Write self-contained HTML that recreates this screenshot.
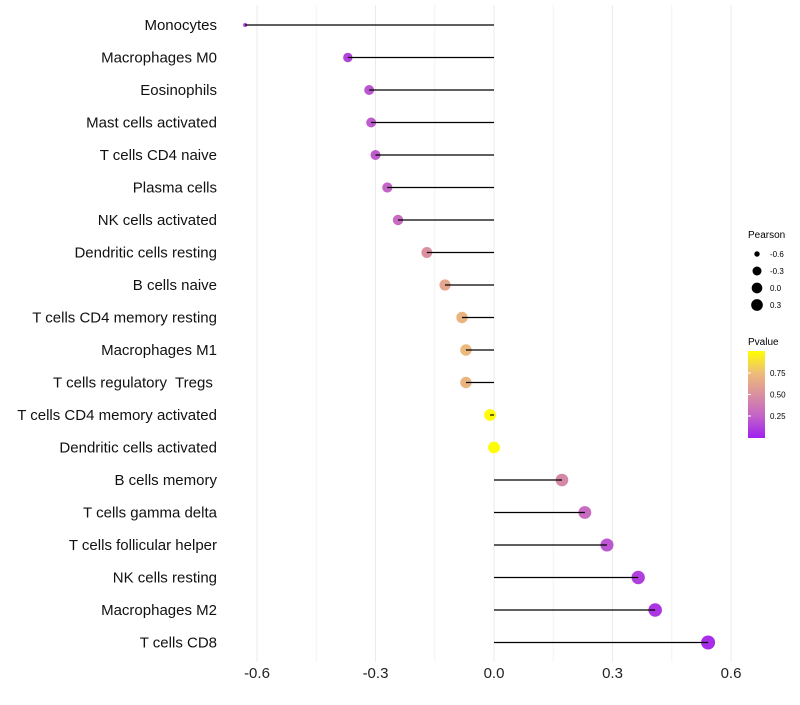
<!DOCTYPE html>
<html><head><meta charset="utf-8"><style>
body{margin:0;background:#fff;font-family:"Liberation Sans",sans-serif}
text{white-space:pre}
</style></head><body>
<svg id="c" width="800" height="700" xmlns="http://www.w3.org/2000/svg">
<defs><linearGradient id="pg" x1="0" y1="1" x2="0" y2="0">
<stop offset="0" stop-color="#A020F0"/><stop offset="0.25" stop-color="#C263C8"/><stop offset="0.5" stop-color="#DA909F"/><stop offset="0.75" stop-color="#EEBD78"/><stop offset="1" stop-color="#FFFF00"/></linearGradient></defs>
<g id="grid"></g><g id="pts"></g><g id="marks"></g><g id="labels"></g>
<g font-size="8" fill="#000">
<text x="748" y="238" font-size="10">Pearson</text>
<g id="sizeleg"></g>
<text x="748" y="345" font-size="10">Pvalue</text>
<rect x="748" y="351" width="17" height="87" fill="url(#pg)"/>
<g id="colleg"></g>
</g>
</svg>
<script>
const categories=["Monocytes","Macrophages M0","Eosinophils","Mast cells activated","T cells CD4 naive","Plasma cells","NK cells activated","Dendritic cells resting","B cells naive","T cells CD4 memory resting","Macrophages M1","T cells regulatory  Tregs ","T cells CD4 memory activated","Dendritic cells activated","B cells memory","T cells gamma delta","T cells follicular helper","NK cells resting","Macrophages M2","T cells CD8"];
const pearson=[-0.63,-0.37,-0.316,-0.311,-0.30,-0.27,-0.243,-0.17,-0.124,-0.081,-0.071,-0.071,-0.01,0.0,0.172,0.23,0.286,0.365,0.408,0.542];
const pvalue=[0.1,0.13,0.2,0.22,0.22,0.26,0.3,0.5,0.62,0.7,0.72,0.7,0.98,0.99,0.45,0.3,0.2,0.12,0.08,0.05];
const xTicks=[-0.6,-0.3,0.0,0.3,0.6];
const xTickLabels=["-0.6","-0.3","0.0","0.3","0.6"];
const sizeLegVals=[-0.6,-0.3,0.0,0.3];
const colLegVals=[0.25,0.5,0.75];
const NS="http://www.w3.org/2000/svg";
const x=v=>494+v*395;
const y=i=>25+i*32.5;
const pmin=Math.min(...pearson),pmax=Math.max(...pearson);
const r=v=>{const f=Math.max(0,(v-pmin)/(pmax-pmin));return Math.sqrt(4+45*Math.pow(f,0.6));};
const stops=[[0,[160,32,240]],[0.25,[194,99,200]],[0.5,[218,144,159]],[0.75,[238,189,120]],[1,[255,255,0]]];
function col(p){for(let k=0;k<stops.length-1;k++){const[a,ca]=stops[k],[b,cb]=stops[k+1];if(p<=b){const t=(p-a)/(b-a);return`rgb(${ca.map((c,j)=>Math.round(c+(cb[j]-c)*t)).join(',')})`;}}return'rgb(255,255,0)';}
function mk(t,a,p){const e=document.createElementNS(NS,t);for(const k in a)e.setAttribute(k,a[k]);p.appendChild(e);return e;}
const G=document.getElementById('grid'),P=document.getElementById('pts'),M=document.getElementById('marks'),L=document.getElementById('labels');
[-0.45,-0.15,0.15,0.45].forEach(v=>{const e=mk('line',{x1:x(v),x2:x(v),y1:5,y2:662,stroke:'#f4f4f4','stroke-width':1},G);

});
xTicks.forEach((v,i)=>{const e=mk('line',{x1:x(v),x2:x(v),y1:5,y2:662,stroke:'#ebebeb','stroke-width':1},G);


const t=mk('text',{x:x(v),y:678,'text-anchor':'middle','font-size':15,fill:'#222'},L);t.textContent=xTickLabels[i];

});
categories.forEach((c,i)=>{
const t=mk('text',{x:217,y:y(i)+5,'text-anchor':'end','font-size':15,fill:'#111'},L);t.textContent=c;


const d=mk('circle',{cx:x(pearson[i]),cy:y(i),r:r(pearson[i]),fill:col(pvalue[i])},P);


const ln=mk('line',{x1:x(0),x2:x(pearson[i]),y1:y(i),y2:y(i),stroke:'#000','stroke-width':1.2},M);

});
const S=document.getElementById('sizeleg');
sizeLegVals.forEach((v,i)=>{const cy=254+i*17;
const d=mk('circle',{cx:757,cy:cy,r:Math.min(r(v),6.5)*0.9,fill:'#000'},S);


const t=mk('text',{x:770,y:cy+3},S);t.textContent=v.toFixed(1);

});
const C=document.getElementById('colleg');
colLegVals.forEach(v=>{const cy=437.5-v*86;
const tk=mk('line',{x1:748,x2:751,y1:cy,y2:cy,stroke:'#fff'},C);


const t=mk('text',{x:770,y:cy+3},C);t.textContent=v.toFixed(2);

});
</script>
</body></html>
